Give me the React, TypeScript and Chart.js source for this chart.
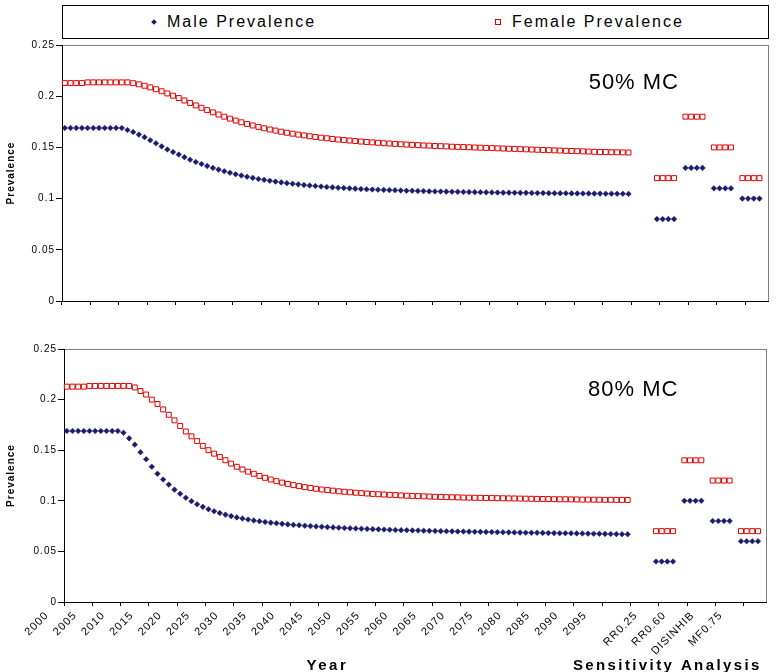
import React, { useEffect, useRef } from "react";
import { Chart, registerables } from "chart.js";

Chart.register(...registerables);

const FONT = "'Liberation Sans', Arial, Helvetica, sans-serif";
const NAVY = "#1b1b6b";
const RED = "#e00000";

// Category labels
const years: string[] = Array.from({ length: 100 }, (_, i) => String(2000 + i));
const sensLabels = ["RR0.25", "RR0.60", "DISINHIB", "MF0.75"];
const yTicks = [0, 0.05, 0.1, 0.15, 0.2, 0.25];

// 50% MC — yearly prevalence 2000..2099
const topMale = [
  0.169, 0.169, 0.169, 0.169, 0.169, 0.169, 0.169, 0.169, 0.169, 0.169,
  0.169, 0.167, 0.165, 0.1625, 0.16, 0.157, 0.154, 0.151, 0.148, 0.1455,
  0.143, 0.1405, 0.138, 0.1358, 0.1338, 0.1318, 0.13, 0.1283, 0.1267, 0.1252,
  0.1238, 0.1225, 0.1213, 0.1202, 0.1192, 0.1183, 0.1174, 0.1166, 0.1158, 0.1151,
  0.1145, 0.1139, 0.1133, 0.1128, 0.1123, 0.1118, 0.1114, 0.111, 0.1106, 0.1103,
  0.11, 0.1097, 0.1094, 0.1091, 0.1089, 0.1087, 0.1085, 0.1083, 0.1081, 0.1079,
  0.1077, 0.1076, 0.1074, 0.1073, 0.1071, 0.107, 0.1069, 0.1068, 0.1067, 0.1066,
  0.1065, 0.1064, 0.1063, 0.1062, 0.1061, 0.106, 0.1059, 0.1058, 0.1058, 0.1057,
  0.1056, 0.1056, 0.1055, 0.1054, 0.1054, 0.1053, 0.1053, 0.1052, 0.1052, 0.1051,
  0.1051, 0.105, 0.105, 0.1049, 0.1049, 0.1048, 0.1048, 0.1047, 0.1047, 0.1046,
];
const topFemale = [
  0.2128, 0.2128, 0.2128, 0.2128, 0.2135, 0.2135, 0.2135, 0.2135, 0.2135, 0.2135,
  0.2135, 0.2135, 0.2127, 0.2116, 0.2102, 0.2086, 0.2068, 0.2048, 0.2027, 0.2005,
  0.1982, 0.1958, 0.1934, 0.191, 0.1887, 0.1864, 0.1842, 0.1821, 0.18, 0.1781,
  0.1762, 0.1745, 0.1729, 0.1714, 0.17, 0.1687, 0.1675, 0.1664, 0.1653, 0.1643,
  0.1634, 0.1625, 0.1617, 0.1609, 0.1602, 0.1595, 0.1589, 0.1583, 0.1577, 0.1572,
  0.1567, 0.1562, 0.1557, 0.1553, 0.1549, 0.1545, 0.1541, 0.1538, 0.1534, 0.1531,
  0.1528, 0.1525, 0.1522, 0.1519, 0.1517, 0.1514, 0.1512, 0.151, 0.1507, 0.1505,
  0.1503, 0.1501, 0.1499, 0.1497, 0.1495, 0.1493, 0.1491, 0.1489, 0.1487, 0.1485,
  0.1483, 0.1481, 0.1479, 0.1477, 0.1475, 0.1473, 0.1471, 0.1469, 0.1467, 0.1465,
  0.1463, 0.1461, 0.1459, 0.1457, 0.1455, 0.1454, 0.1453, 0.1452, 0.1451, 0.145,
];
const topSensMale = [0.08, 0.13, 0.11, 0.1];
const topSensFemale = [0.12, 0.18, 0.15, 0.12];

// 80% MC — yearly prevalence 2000..2099
const bottomMale = [
  0.169, 0.169, 0.169, 0.169, 0.169, 0.169, 0.169, 0.169, 0.169, 0.169,
  0.1673, 0.1617, 0.1555, 0.148, 0.141, 0.1337, 0.1268, 0.121, 0.116, 0.111,
  0.107, 0.103, 0.0996, 0.0966, 0.094, 0.0917, 0.0897, 0.0879, 0.0863, 0.0849,
  0.0836, 0.0825, 0.0815, 0.0806, 0.0798, 0.0791, 0.0784, 0.0778, 0.0772, 0.0767,
  0.0762, 0.0758, 0.0754, 0.075, 0.0746, 0.0743, 0.074, 0.0737, 0.0734, 0.0731,
  0.0729, 0.0726, 0.0724, 0.0722, 0.072, 0.0718, 0.0716, 0.0714, 0.0712, 0.071,
  0.0709, 0.0707, 0.0706, 0.0704, 0.0703, 0.0702, 0.07, 0.0699, 0.0698, 0.0697,
  0.0696, 0.0695, 0.0694, 0.0693, 0.0692, 0.0691, 0.069, 0.0689, 0.0688, 0.0687,
  0.0686, 0.0685, 0.0684, 0.0684, 0.0683, 0.0682, 0.0681, 0.068, 0.068, 0.0679,
  0.0678, 0.0677, 0.0676, 0.0675, 0.0674, 0.0673, 0.0672, 0.0671, 0.067, 0.0669,
];
const bottomFemale = [
  0.2128, 0.2128, 0.2128, 0.2128, 0.2135, 0.2135, 0.2135, 0.2135, 0.2135, 0.2135,
  0.2135, 0.2135, 0.212, 0.2085, 0.205, 0.2, 0.1957, 0.1903, 0.185, 0.1795,
  0.174, 0.1685, 0.1637, 0.159, 0.1543, 0.15, 0.1466, 0.1434, 0.1401, 0.1367,
  0.1336, 0.131, 0.1288, 0.1267, 0.1246, 0.1227, 0.121, 0.1194, 0.118, 0.1167,
  0.1155, 0.1145, 0.1135, 0.1127, 0.1119, 0.1112, 0.1106, 0.11, 0.1094, 0.1089,
  0.1084, 0.108, 0.1076, 0.1072, 0.1068, 0.1065, 0.1062, 0.1059, 0.1056, 0.1053,
  0.105, 0.1048, 0.1046, 0.1044, 0.1042, 0.104, 0.1038, 0.1036, 0.1035, 0.1034,
  0.1032, 0.1031, 0.103, 0.1029, 0.1028, 0.1027, 0.1026, 0.1025, 0.1024, 0.1023,
  0.1022, 0.1021, 0.102, 0.1019, 0.1018, 0.1017, 0.1016, 0.1015, 0.1015, 0.1014,
  0.1013, 0.1012, 0.1012, 0.1011, 0.1011, 0.101, 0.101, 0.1009, 0.1009, 0.1008,
];
const bottomSensMale = [0.04, 0.1, 0.08, 0.06];
const bottomSensFemale = [0.07, 0.14, 0.12, 0.07];

// ---- build category table: years, a 4-slot gap, then 4 groups of 4 slots each followed by a blank
const GAP = ["", "", "", ""];
const categories: string[] = [
  ...years,
  ...GAP,
  ...sensLabels.flatMap((l) => [l, l, l, l, ""]),
];

function buildSeries(yearVals: number[], sensVals: number[]): (number | null)[] {
  return [
    ...yearVals,
    ...GAP.map(() => null),
    ...sensVals.flatMap((v) => [v, v, v, v, null]),
  ];
}

type Note = { text: string; xIndex: number; y: number; font: string; spacing?: string; align?: CanvasTextAlign };

function notesPlugin(notes: Note[]) {
  return {
    id: "notes",
    beforeDraw(chart: any) {
      const { ctx, chartArea: a } = chart;
      ctx.save();
      ctx.strokeStyle = "#808080";
      ctx.lineWidth = 1;
      ctx.strokeRect(Math.round(a.left) + 0.5, Math.round(a.top) + 0.5, Math.round(a.right - a.left), Math.round(a.bottom - a.top));
      ctx.restore();
      (ctx as any).letterSpacing = "1px";
    },
    afterDraw(chart: any) {
      const { ctx } = chart;
      const xs = chart.scales.x;
      const ys = chart.scales.y;
      notes.forEach((n) => {
        ctx.save();
        ctx.font = n.font;
        ctx.fillStyle = "#000";
        ctx.textAlign = n.align || "left";
        ctx.textBaseline = "alphabetic";
        (ctx as any).letterSpacing = n.spacing || "0px";
        ctx.fillText(n.text, xs.getPixelForValue(n.xIndex), n.y < 1 ? ys.getPixelForValue(n.y) : n.y);
        ctx.restore();
      });
    },
  };
}

function makeChart(
  canvas: HTMLCanvasElement,
  male: (number | null)[],
  female: (number | null)[],
  showXLabels: boolean,
  yWidth: number,
  xHeight: number,
  padding: any,
  notes: Note[]
) {
  return new Chart(canvas, {
    type: "line",
    data: {
      labels: categories,
      datasets: [
        {
          label: "Male Prevalence",
          data: male,
          showLine: false,
          pointStyle: "rectRot",
          pointRadius: 2.8,
          pointBackgroundColor: NAVY,
          pointBorderColor: NAVY,
          pointBorderWidth: 0.5,
        },
        {
          label: "Female Prevalence",
          data: female,
          showLine: false,
          pointStyle: "rect",
          pointRadius: 3.5,
          pointBackgroundColor: "#ffffff",
          pointBorderColor: RED,
          pointBorderWidth: 1,
        },
      ],
    },
    options: {
      responsive: false,
      maintainAspectRatio: false,
      animation: false,
      events: [],
      layout: { padding },
      plugins: { legend: { display: false }, tooltip: { enabled: false } },
      scales: {
        x: {
          type: "category",
          offset: true,
          grid: {
            offset: true,
            drawOnChartArea: false,
            drawTicks: true,
            tickLength: 4,
            tickColor: (c: any) => (c.index % 5 === 0 ? "#000" : "rgba(0,0,0,0)"),
          },
          border: { display: true, color: "#000", width: 1 },
          ticks: {
            display: showXLabels,
            autoSkip: false,
            maxRotation: 45,
            minRotation: 45,
            labelOffset: -20,
            padding: 3,
            color: "#000",
            font: { family: FONT, size: 11 },
            callback: (_v: any, index: number) => {
              const lab = categories[index];
              if (index < years.length) return index % 5 === 0 ? lab : "";
              return lab && lab !== categories[index - 1] ? lab : "";
            },
          },
          afterFit: (s: any) => {
            s.height = xHeight;
          },
        },
        y: {
          min: 0,
          max: 0.25,
          afterBuildTicks: (s: any) => {
            s.ticks = yTicks.map((v) => ({ value: v }));
          },
          ticks: {
            color: "#000",
            padding: 1,
            font: { family: FONT, size: 10 },
            callback: (v: any) => String(Number(Number(v).toFixed(2))),
          },
          grid: { drawOnChartArea: false, drawTicks: true, tickLength: 6, tickColor: "#000" },
          border: { display: true, color: "#000", width: 1 },
          title: {
            display: true,
            text: "Prevalence",
            color: "#000",
            font: { family: FONT, size: 10, weight: "bold" },
            padding: { top: 5, bottom: 0 },
          },
          afterFit: (s: any) => {
            s.width = yWidth;
          },
        },
      },
    } as any,
    plugins: [notesPlugin(notes) as any],
  });
}

export default function App() {
  const topRef = useRef<HTMLCanvasElement | null>(null);
  const botRef = useRef<HTMLCanvasElement | null>(null);

  useEffect(() => {
    const c1 = makeChart(
      topRef.current!,
      buildSeries(topMale, topSensMale),
      buildSeries(topFemale, topSensFemale),
      false,
      62,
      19,
      { top: 15, right: 8, left: 0, bottom: 0 },
      [{ text: "50% MC", xIndex: 92, y: 0.207, font: `22px ${FONT}`, spacing: "1px" }]
    );
    const c2 = makeChart(
      botRef.current!,
      buildSeries(bottomMale, bottomSensMale),
      buildSeries(bottomFemale, bottomSensFemale),
      true,
      64,
      70,
      { top: 19, right: 4, left: 0, bottom: 0 },
      [
        { text: "80% MC", xIndex: 92, y: 0.2036, font: `22px ${FONT}`, spacing: "1px" },
        { text: "Year", xIndex: 46, y: 340, font: `bold 15px ${FONT}`, spacing: "2.5px", align: "center" },
        { text: "Sensitivity Analysis", xIndex: 106, y: 340, font: `bold 15px ${FONT}`, spacing: "2.4px", align: "center" },
      ]
    );
    return () => {
      c1.destroy();
      c2.destroy();
    };
  }, []);

  return (
    <div style={{ position: "absolute", left: 0, top: 0, width: 776, height: 672, background: "#fff", fontFamily: FONT }}>
      <canvas ref={topRef} width={776} height={290} style={{ position: "absolute", left: 0, top: 30, width: 776, height: 290 }} />
      <canvas ref={botRef} width={776} height={342} style={{ position: "absolute", left: 0, top: 330, width: 776, height: 342 }} />
      <div
        style={{
          position: "absolute",
          left: 62,
          top: 5,
          width: 707,
          height: 34,
          boxSizing: "border-box",
          border: "1px solid #000",
          background: "#fff",
          fontSize: 16,
          letterSpacing: "2px",
          color: "#000",
        }}
      >
        <span
          style={{ position: "absolute", left: 89, top: 14, width: 4, height: 4, background: NAVY, transform: "rotate(45deg)" }}
        />
        <span style={{ position: "absolute", left: 104, top: 7, lineHeight: "18px" }}>Male Prevalence</span>
        <span
          style={{ position: "absolute", left: 432, top: 13, width: 4, height: 4, border: `1px solid ${RED}`, background: "#fff" }}
        />
        <span style={{ position: "absolute", left: 449, top: 7, lineHeight: "18px" }}>Female Prevalence</span>
      </div>
    </div>
  );
}
